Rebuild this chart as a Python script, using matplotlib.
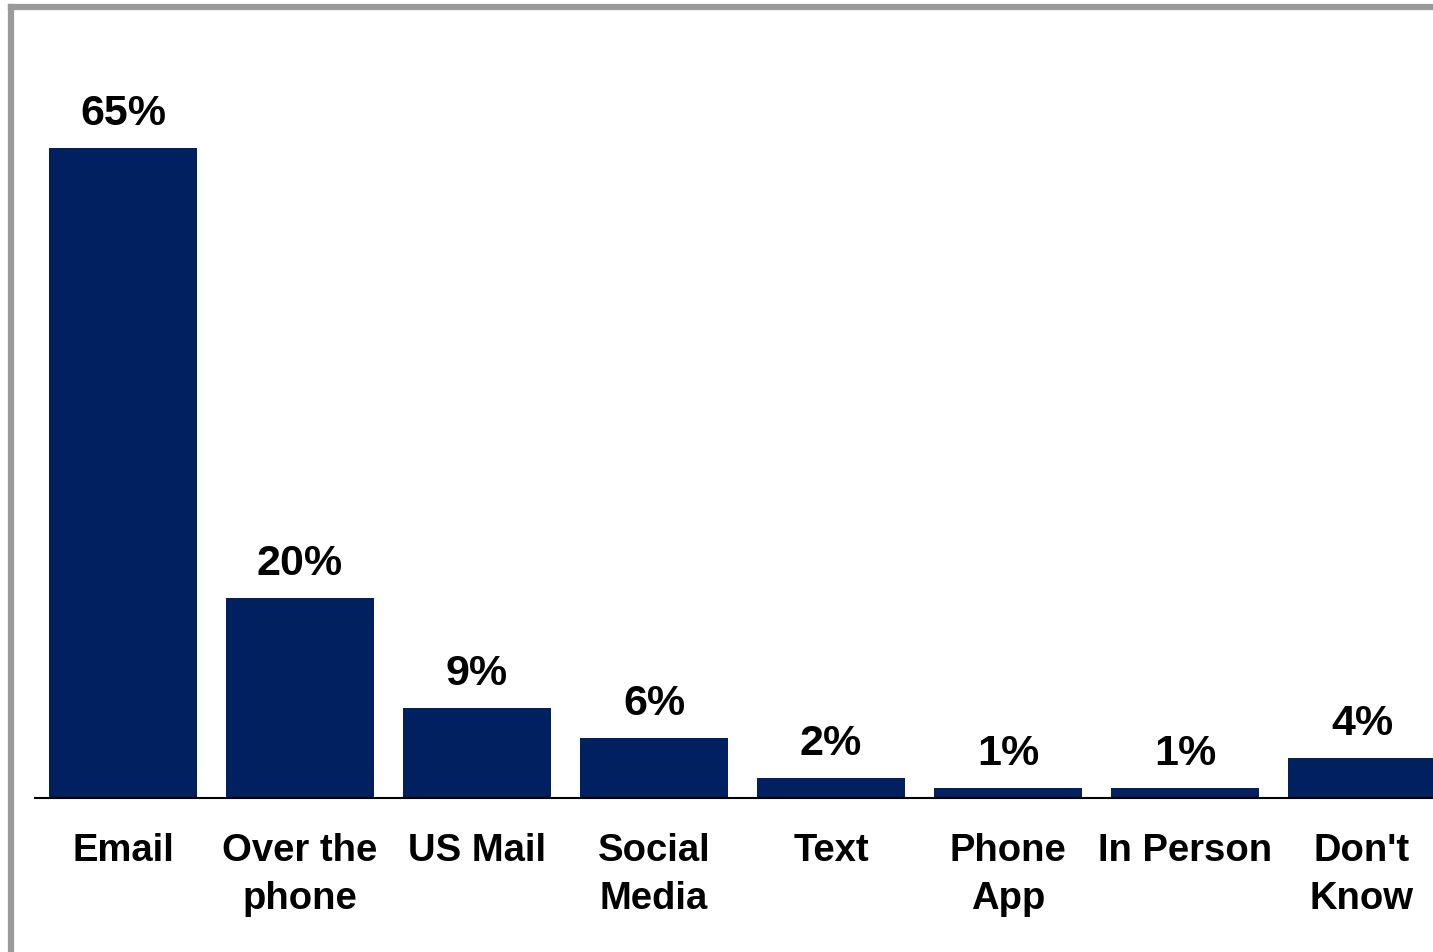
import matplotlib
matplotlib.use('Agg')
import matplotlib.pyplot as plt
from matplotlib.lines import Line2D

# --- data ---
kategorie = ['Email', 'Over the\nphone', 'US Mail', 'Social\nMedia', 'Text',
             'Phone\nApp', 'In Person', "Don't\nKnow"]
hodnoty = [65, 20, 9, 6, 2, 1, 1, 4]

barva = '#002060'
W, H = 1433, 952

fig = plt.figure(figsize=(W / 100, H / 100), dpi=100)
fig.patch.set_facecolor('white')

# axes: 177 px per category, baseline at y=798 px, 10 px per percent
slot = 177
left = 34.5
base = 798
ax = fig.add_axes([left / W, (H - base) / H, 8 * slot / W, 700 / H])
x = list(range(len(kategorie)))
ax.bar(x, hodnoty, width=148 / slot, color=barva, zorder=2)
ax.set_xlim(-0.5, 7.5)
ax.set_ylim(0, 70)

for xi, v in zip(x, hodnoty):
    ax.annotate(f'{v}%', xy=(xi, v), xytext=(0, 10), textcoords='offset points',
                ha='center', va='bottom', fontsize=31, fontweight='bold',
                family='Liberation Sans')

ax.set_xticks(x)
ax.set_xticklabels(kategorie, fontsize=27.5, fontweight='bold',
                   family='Liberation Sans', linespacing=1.45)
ax.tick_params(axis='x', length=0, pad=25)
ax.set_yticks([])
for s in ['top', 'right', 'left']:
    ax.spines[s].set_visible(False)
ax.spines['bottom'].set_linewidth(1.5)
ax.spines['bottom'].set_color('black')

# gray frame (left and top edges)
sed = '#999999'
fig.add_artist(Line2D([11 / W, 11 / W], [0, 1 - 7 / H], color=sed, lw=4.5,
                      transform=fig.transFigure, solid_capstyle='projecting'))
fig.add_artist(Line2D([11 / W, 1], [1 - 7 / H, 1 - 7 / H], color=sed, lw=4.5,
                      transform=fig.transFigure, solid_capstyle='projecting'))

fig.savefig('out.png', dpi=100)
